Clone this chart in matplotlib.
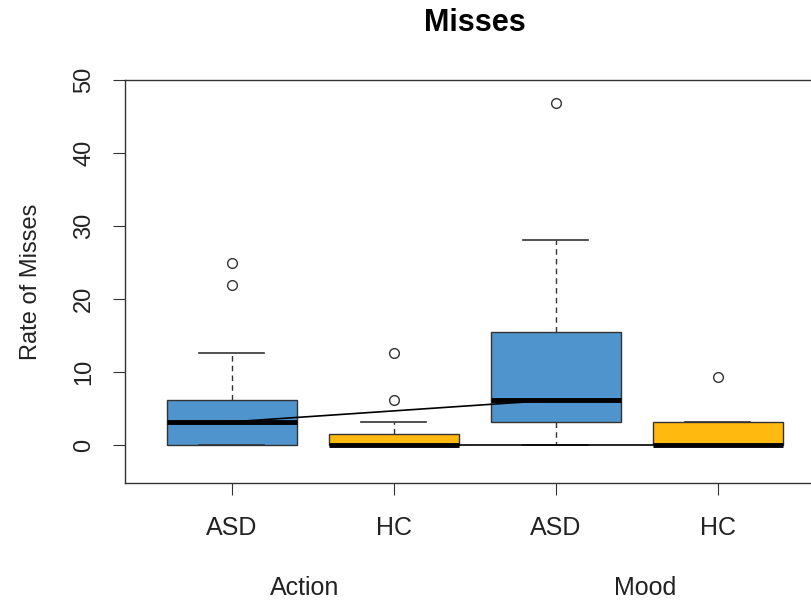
import matplotlib.pyplot as plt
from matplotlib.transforms import blended_transform_factory

# values
groups = ["ASD", "HC", "ASD", "HC"]
conditions = ["Action", "Mood"]
q1 = [0.0, 0.0, 3.2, 0.0]
med = [3.2, 0.0, 6.2, 0.0]
q3 = [6.2, 1.5, 15.5, 3.2]
whislo = [0.0, 0.0, 0.0, 0.0]
whishi = [12.6, 3.2, 28.1, 3.2]
fliers = [[24.9, 21.9], [12.6, 6.2], [46.8], [9.4]]
colors = ["#4F94CD", "#FFB90F", "#4F94CD", "#FFB90F"]

plt.rcParams["font.family"] = ["Liberation Sans", "DejaVu Sans"]

fig = plt.figure(figsize=(8.11, 6.01), dpi=100)
ax = fig.add_axes([0.154, 0.196, 0.863, 0.671])

stats = []
for i in range(len(groups)):
    stats.append({"q1": q1[i], "med": med[i], "q3": q3[i],
                  "whislo": whislo[i], "whishi": whishi[i], "fliers": fliers[i]})

pos = list(range(1, len(groups) + 1))
edge = "#333333"
bp = ax.bxp(stats, positions=pos, widths=0.8, patch_artist=True,
            boxprops=dict(edgecolor=edge, linewidth=1.0),
            medianprops=dict(color="black", linewidth=3.5, solid_capstyle="butt"),
            whiskerprops=dict(color=edge, linewidth=1.0, linestyle=(0, (4, 3))),
            capprops=dict(color=edge, linewidth=1.2),
            capwidths=0.4,
            flierprops=dict(marker="o", markersize=7, markerfacecolor="none",
                            markeredgecolor=edge, markeredgewidth=1.0))
for patch, c in zip(bp["boxes"], colors):
    patch.set_facecolor(c)

# lines connecting medians across conditions (ASD and HC)
ax.plot([pos[0], pos[2]], [med[0], med[2]], color="black", lw=1.2, zorder=5)
ax.plot([pos[1], pos[3]], [med[1], med[3]], color="black", lw=1.2, zorder=5)

ax.set_xlim(0.34, 4.66)
ax.set_ylim(-5.2, 50)
ax.set_yticks([0, 10, 20, 30, 40, 50])
ax.set_xticks(pos)
ax.set_xticklabels(groups)
ax.tick_params(axis="both", length=8.5, color=edge, labelcolor="#222222")
ax.tick_params(axis="x", labelsize=18, pad=15)
ax.tick_params(axis="y", labelsize=17, pad=13)
for lab in ax.get_yticklabels():
    lab.set_rotation(90)
    lab.set_va("center")
for s in ax.spines.values():
    s.set_color(edge)
    s.set_linewidth(1.0)

ax.set_ylabel("Rate of Misses", fontsize=17, color="#222222", labelpad=22)
ax.set_title("Misses", fontsize=22, fontweight="bold", pad=35)

trans = blended_transform_factory(ax.transData, fig.transFigure)
for x, name in zip([1.45, 3.55], conditions):
    ax.text(x, 0.022, name, transform=trans, ha="center", va="center",
            fontsize=18, color="#222222")

fig.savefig("out.png", dpi=100)
